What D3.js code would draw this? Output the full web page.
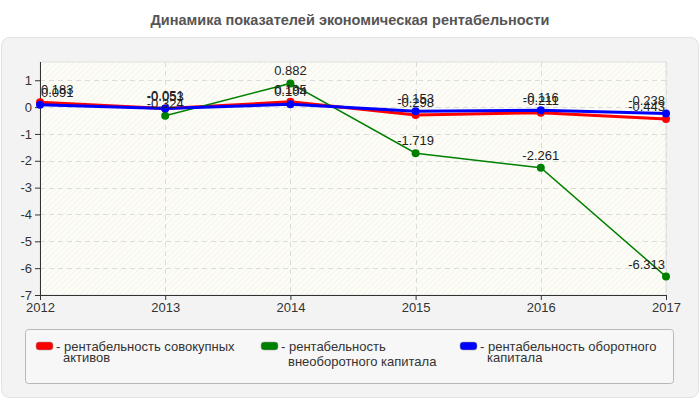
<!DOCTYPE html>
<html>
<head>
<meta charset="utf-8">
<script src="https://cdn.jsdelivr.net/npm/d3@7"></script>
<style>
  body { margin: 0; background: #fff; font-family: "Liberation Sans", Arial, sans-serif; }
</style>
</head>
<body>
<div id="chart"></div>
<script>
// --- DATA ---
const years = [2012, 2013, 2014, 2015, 2016, 2017];
const totalAssets = [0.183, -0.053, 0.195, -0.298, -0.211, -0.443];     // red
const fixedCapital = [null, -0.324, 0.882, -1.719, -2.261, -6.313];     // green
const currentCapital = [0.091, -0.051, 0.104, -0.153, -0.116, -0.238];  // blue
const yTicks = [1, 0, -1, -2, -3, -4, -5, -6, -7];

const series = [
    { name: "рентабельность совокупных|активов", color: "#ff0000", width: 3, values: totalAssets },
    { name: "рентабельность|внеоборотного капитала", color: "#008000", width: 1.5, values: fixedCapital },
    { name: "рентабельность оборотного|капитала", color: "#0000ff", width: 3, values: currentCapital }
];

const width = 700, height = 400;
const plot = { left: 40, right: 666, top: 62, bottom: 295 };
const hy = s => s.replace(/\u2212/g, "-"); // plain hyphen minus like the original

const svg = d3.select("#chart").append("svg")
    .attr("width", width).attr("height", height);

// Title
svg.append("text")
    .attr("x", 350).attr("y", 25)
    .attr("text-anchor", "middle")
    .style("font-size", "14.5px").style("font-weight", "bold")
    .style("fill", "#555")
    .text("Динамика показателей экономическая рентабельности");

// Panel
svg.append("rect")
    .attr("x", 1.5).attr("y", 37.5).attr("width", 697).attr("height", 360)
    .attr("rx", 8)
    .attr("fill", "#f3f3f3").attr("stroke", "#e2e2e2");

// Hatch pattern
const defs = svg.append("defs");
const pat = defs.append("pattern")
    .attr("id", "hatch").attr("patternUnits", "userSpaceOnUse")
    .attr("width", 4).attr("height", 4)
    .attr("patternTransform", "rotate(45)");
pat.append("rect").attr("width", 4).attr("height", 4).attr("fill", "#fdfdf6");
pat.append("line").attr("x1", 0).attr("y1", 0).attr("x2", 0).attr("y2", 4)
    .attr("stroke", "#ececec").attr("stroke-width", 1);

// Scales
const x = d3.scalePoint().domain(years).range([plot.left, plot.right]);
const y = d3.scaleLinear().domain([-7, 1.68]).range([plot.bottom, plot.top]);

// Plot background
svg.append("rect")
    .attr("x", plot.left).attr("y", plot.top)
    .attr("width", plot.right - plot.left).attr("height", plot.bottom - plot.top)
    .attr("fill", "url(#hatch)").attr("stroke", "#e0e0e0");

// Grid lines
svg.append("g").selectAll("line")
    .data(yTicks.filter(t => t > -7)).enter().append("line")
    .attr("x1", plot.left).attr("x2", plot.right)
    .attr("y1", d => Math.round(y(d)) + 0.5).attr("y2", d => Math.round(y(d)) + 0.5)
    .attr("stroke", "#dcdcdc").attr("stroke-dasharray", "5 4");
svg.append("g").selectAll("line")
    .data(years.slice(1)).enter().append("line")
    .attr("x1", d => Math.round(x(d)) + 0.5).attr("x2", d => Math.round(x(d)) + 0.5)
    .attr("y1", plot.top).attr("y2", plot.bottom)
    .attr("stroke", "#dcdcdc").attr("stroke-dasharray", "5 4");

// Axes
const yAxis = svg.append("g")
    .attr("transform", `translate(${plot.left},0)`)
    .call(d3.axisLeft(y).tickValues(yTicks).tickSize(5).tickSizeOuter(0).tickFormat(d => hy(d3.format("d")(d))));
yAxis.select(".domain").attr("stroke", "#333").attr("d", `M0.5,${plot.top}V${plot.bottom}`);
yAxis.selectAll(".tick line").attr("stroke", "#333");
yAxis.selectAll(".tick text").style("font-size", "13px").style("fill", "#333")
    .style("font-family", "'Liberation Sans', Arial, sans-serif").attr("x", -8);

const xAxis = svg.append("g")
    .attr("transform", `translate(0,${plot.bottom})`)
    .call(d3.axisBottom(x).tickSize(5).tickSizeOuter(0));
xAxis.select(".domain").attr("stroke", "#333").attr("d", `M${plot.left},0.5H${plot.right}`);
xAxis.selectAll(".tick line").attr("stroke", "#333");
xAxis.selectAll(".tick text").style("font-size", "13px").style("fill", "#333")
    .style("font-family", "'Liberation Sans', Arial, sans-serif").attr("y", 8);

// Lines & points
const line = d3.line()
    .defined(d => d.v !== null)
    .x(d => x(d.year)).y(d => y(d.v));

series.forEach(s => {
    const pts = years.map((yr, i) => ({ year: yr, v: s.values[i] }));
    const g = svg.append("g");
    g.append("path").datum(pts)
        .attr("fill", "none").attr("stroke", s.color)
        .attr("stroke-width", s.width).attr("d", line);
    g.selectAll("circle").data(pts.filter(d => d.v !== null)).enter().append("circle")
        .attr("cx", d => x(d.year)).attr("cy", d => y(d.v))
        .attr("r", 4).attr("fill", s.color);
});

// Value labels
series.forEach(s => {
    const pts = years.map((yr, i) => ({ year: yr, v: s.values[i] })).filter(d => d.v !== null);
    svg.append("g").selectAll("text").data(pts).enter().append("text")
        .attr("x", d => d.year === 2012 ? x(d.year) + 1 : d.year === 2017 ? x(d.year) - 1 : x(d.year))
        .attr("y", d => y(d.v) - 8)
        .attr("text-anchor", d => d.year === 2012 ? "start" : d.year === 2017 ? "end" : "middle")
        .style("font-size", "13px").style("fill", "#222")
        .text(d => hy(d3.format(".3f")(d.v)));
});

// Legend
svg.append("rect")
    .attr("x", 25.5).attr("y", 329.5).attr("width", 648).attr("height", 54)
    .attr("rx", 3).attr("fill", "#f7f7f7").attr("stroke", "#b8b8b8");

const legendX = [36, 261, 460];
series.forEach((s, i) => {
    const g = svg.append("g").attr("transform", `translate(${legendX[i]},342)`);
    g.append("rect").attr("x", 0).attr("y", 0).attr("width", 17).attr("height", 8)
        .attr("rx", 3).attr("fill", s.color).attr("stroke", "#999").attr("stroke-width", 0.5);
    const lines = s.name.split("|");
    const t = g.append("text").style("font-size", "13px").style("fill", "#333");
    t.append("tspan").attr("x", 20).attr("y", 9).text("- " + lines[0]);
    t.append("tspan").attr("x", 27).attr("y", i === 1 ? 24 : 20).text(lines[1]);
});
</script>
</body>
</html>
